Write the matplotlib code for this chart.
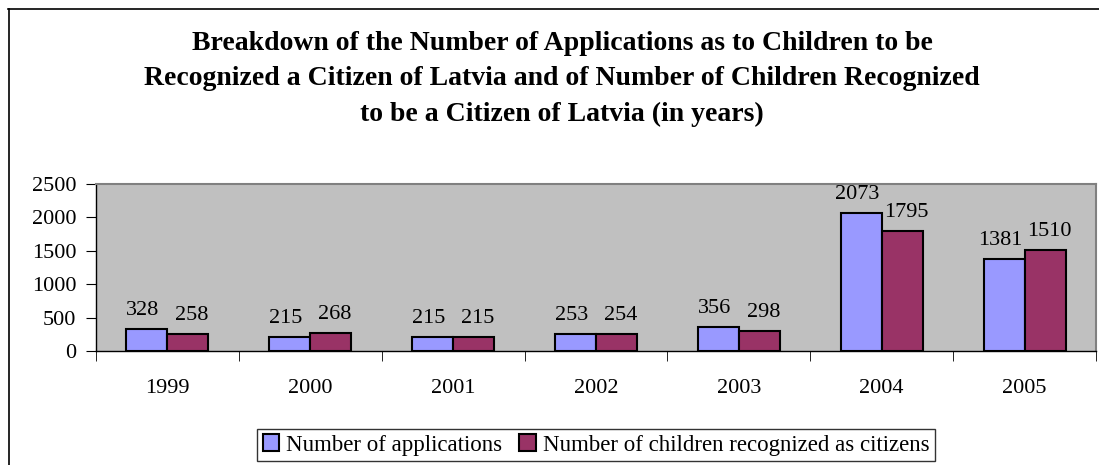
"""Latvian citizenship applications for children, 1999-2005 (bar chart)."""

import matplotlib

matplotlib.use("Agg")

import matplotlib.pyplot as plt
import numpy as np

years = ["1999", "2000", "2001", "2002", "2003", "2004", "2005"]
applications = [328, 215, 215, 253, 356, 2073, 1381]
recognized = [258, 268, 215, 254, 298, 1795, 1510]

TITLE = (
    "Breakdown of the Number of Applications as to Children to be\n"
    "Recognized a Citizen of Latvia and of Number of Children Recognized\n"
    "to be a Citizen of Latvia (in years)"
)

plt.rcParams["font.family"] = ["Liberation Serif", "DejaVu Serif"]

fig = plt.figure(figsize=(10.99, 4.65), dpi=100)

# outer chart frame (cut off at right and bottom as in the original)
fig.add_artist(plt.Line2D([8.5 / 1099, 8.5 / 1099], [0, 1 - 9 / 465],
                          color="black", lw=1.2))
fig.add_artist(plt.Line2D([8 / 1099, 1], [1 - 9.5 / 465, 1 - 9.5 / 465],
                          color="black", lw=1.2))

ax = fig.add_axes([96 / 1099, 1 - 351 / 465, 1000 / 1099, 167 / 465])
ax.set_facecolor("#c0c0c0")

x = np.arange(len(years))
w = 0.287
b1 = ax.bar(x - w / 2, applications, w, color="#9999ff", edgecolor="black",
            linewidth=1.5, label="Number of applications")
b2 = ax.bar(x + w / 2, recognized, w, color="#993366", edgecolor="black",
            linewidth=1.5, label="Number of children recognized as citizens")

# labels nudged slightly outward so neighbours don't collide
for bars, vals, dx in ((b1, applications, -3), (b2, recognized, 3)):
    for bar, v in zip(bars, vals):
        ax.annotate(str(v), (bar.get_x() + bar.get_width() / 2, v),
                    xytext=(dx, 10), textcoords="offset points",
                    ha="center", va="baseline", fontsize=16, clip_on=False)

ax.set_xlim(-0.5, len(years) - 0.5)
ax.set_ylim(0, 2500)
ax.set_yticks(range(0, 2501, 500))
ax.set_xticks(x)
ax.set_xticklabels(years)
ax.set_xticks(np.arange(-0.5, len(years)), minor=True)
ax.tick_params(axis="x", which="major", length=0, pad=20, labelsize=16)
ax.tick_params(axis="x", which="minor", length=7, direction="out")
ax.tick_params(axis="y", length=7, direction="out", labelsize=16, pad=7)

for side in ("left", "bottom"):
    ax.spines[side].set_color("black")
    ax.spines[side].set_linewidth(1.0)
for side in ("top", "right"):
    ax.spines[side].set_color("#808080")
    ax.spines[side].set_linewidth(1.5)

fig.text(562 / 1099, 1 - 31 / 465, TITLE, ha="center", va="top",
         fontsize=20, fontweight="bold", linespacing=1.55)

leg = fig.legend(handles=[b1, b2], loc="center",
                 bbox_to_anchor=(596 / 1099, 1 - 445 / 465),
                 ncol=2, fontsize=16.5, frameon=True, fancybox=False,
                 handlelength=0.72, handleheight=0.72, handletextpad=0.3,
                 columnspacing=0.75, borderpad=0.25, borderaxespad=0)
leg.get_frame().set_edgecolor("black")
leg.get_frame().set_linewidth(1.0)

fig.savefig("out.png", dpi=100)
